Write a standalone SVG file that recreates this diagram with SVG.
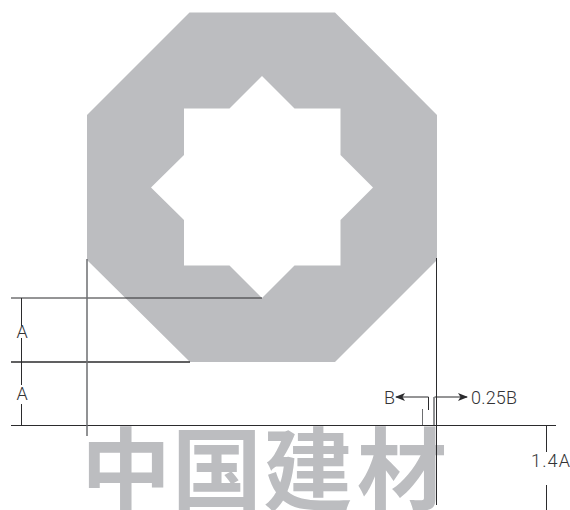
<svg xmlns="http://www.w3.org/2000/svg" width="570" height="510" viewBox="0 0 570 510">
<style>
.ln{stroke:#2b2b2d;stroke-width:1;fill:none}
.t{font-family:"Roboto","Liberation Sans",sans-serif;font-size:18px;fill:#333335;font-weight:300}
.wm{font-family:"Noto Sans CJK SC","Noto Sans",sans-serif;font-size:90px;font-weight:700;fill:#bcbdc0}
</style>
<defs>
<marker id="arr" viewBox="0 0 10 8" refX="9" refY="4" markerWidth="10" markerHeight="8" markerUnits="userSpaceOnUse" orient="auto"><path d="M0 0L10 4L0 8L2.500 4Z" fill="#2b2b2d"/></marker>
</defs>
<rect width="570" height="510" fill="#fff"/>
<g id="octagon">
<path fill="#bcbdc0" fill-rule="evenodd" d="M189.500 12.500H335L437 115V260L335 362H190L87 260V115Z M262 76L229.500 108.500H184V155L151 187.500L184 220V265.500H229.500L262 298L294.500 265.500H340.500V220L373 187.500L340.500 155V108.500H294.500Z"/>
</g>
<g id="watermark"><text class="wm" x="81 172 263 357" y="503">中国建材</text></g>
<g id="connectors">
<path class="ln" d="M11 298H262M11 425.500H556M21.500 298V326M21.500 338V385M21.500 404V425.500M546.500 425.500V452M546.500 485V510M436.500 258V505"/>
<path class="ln" style="stroke-width:1.500" d="M11 362H190"/>
<path class="ln" style="stroke:#6d6e70;stroke-width:1.500" d="M87 259V436"/>
<path class="ln" d="M428.500 410V397H396" marker-end="url(#arr)"/>
<path class="ln" d="M434.500 397H467" marker-end="url(#arr)"/>
<path class="ln" style="stroke:#6d6e70" d="M422.500 409V425"/>
<path class="ln" style="stroke:#6d6e70;stroke-width:1.500" d="M434 397V425"/>
</g>
<g id="labels">
<text class="t" x="22" y="338" text-anchor="middle">A</text>
<text class="t" x="22" y="400" text-anchor="middle">A</text>
<text class="t" x="384" y="404">B</text>
<text class="t" x="471" y="404" textLength="46">0.25B</text>
<text class="t" x="531" y="467" textLength="39">1.4A</text>
</g>
</svg>
